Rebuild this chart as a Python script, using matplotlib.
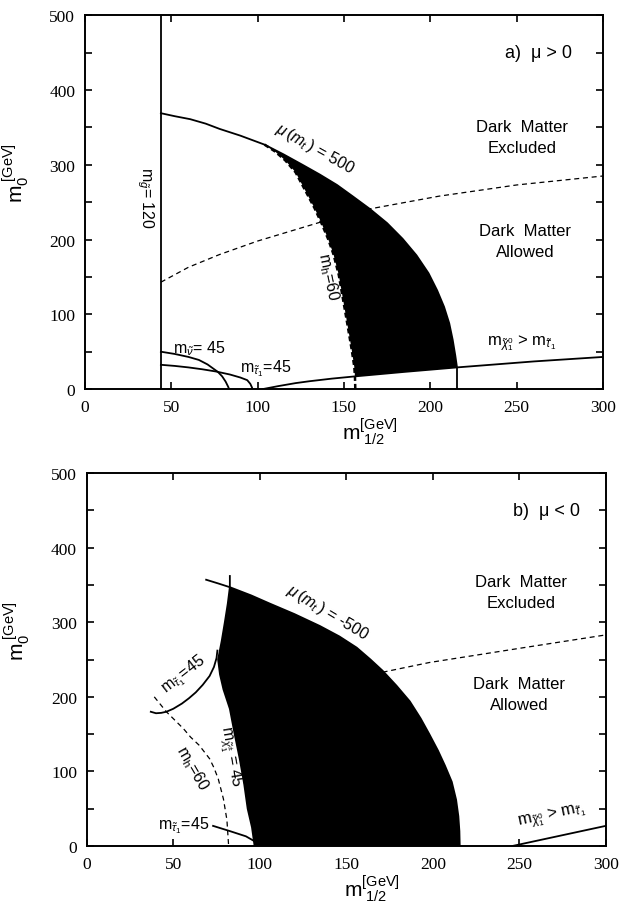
import matplotlib
matplotlib.use("Agg")
import matplotlib.pyplot as plt
import numpy as np

plt.rcParams["font.family"] = "Liberation Sans"
plt.rcParams["mathtext.fontset"] = "custom"
plt.rcParams["mathtext.rm"] = "Liberation Sans"
plt.rcParams["mathtext.it"] = "Liberation Sans:italic"
plt.rcParams["mathtext.sf"] = "Liberation Sans"

# ---- panel a) mu > 0 ----
a_gluino_x = 44
a_mu_x = [44, 52, 61, 70, 78, 90, 104, 115, 126, 136, 146, 155, 165, 175, 184, 192,
          199, 204, 208, 211, 213, 214.5, 215.5, 215.5]
a_mu_y = [369, 365, 361, 355, 348, 339, 327, 314, 300, 287, 273, 258, 241, 222, 201, 179,
          155, 132, 110, 88, 66, 45, 29, 0]
a_mh_x = [104, 110, 116, 122, 128, 133, 137, 141, 144, 147, 149.5, 152, 154.5, 156, 156.4, 156.6]
a_mh_y = [327, 318, 306, 290, 264, 242, 222, 200, 180, 153, 120, 87, 53, 30, 17, 0]
a_chi_x = [103, 112, 122, 130, 143, 156.4, 185, 215.5, 260, 300]
a_chi_y = [0, 4, 8, 10.5, 14, 17, 23, 29, 37, 43]
a_dm_x = [44, 60, 78, 100, 136, 165, 205, 250, 300]
a_dm_y = [143, 163, 180, 198, 223, 241, 258, 273, 285]
a_snu_x = [44, 52, 60, 66, 71, 74, 77, 79.5, 81.5, 83, 83.5]
a_snu_y = [50, 47, 43, 39, 33, 28, 23, 17, 10, 3, 0]
a_stau_x = [44, 52, 60, 68, 76, 84, 90, 94, 95.8, 96.8, 97]
a_stau_y = [32.5, 31, 29, 26.5, 23.5, 19.5, 15.5, 12, 7, 2, 0]

# ---- panel b) mu < 0 ----
b_mu_x = [69, 76, 82.7, 95, 105.8, 120, 134.7, 146, 156, 164, 171, 179, 186.7, 193,
          198, 203, 207, 211, 213.5, 214.8, 215.4, 215.6]
b_mu_y = [357, 352, 347, 336, 325, 311, 295, 281, 266, 250, 235, 215, 194, 171,
          150, 128, 108, 86, 62, 40, 20, 0]
b_char_x = [82.7, 82.7, 81.5, 79.8, 78, 75.9, 77, 79, 82.7, 85.5, 88.4, 91, 93, 95.5, 97]
b_char_y = [362, 347, 325, 300, 275, 250, 230, 210, 184, 150, 117, 83, 50, 25, 0]
b_stau_up_x = [37, 40, 43, 46, 50, 55, 59, 63, 67, 71, 73.5, 75, 75.5]
b_stau_up_y = [180, 178, 178.5, 180, 184, 191, 198, 206, 216, 228, 240, 252, 262]
b_mh_x = [39, 46, 56, 60, 65, 71, 73.5, 76, 79, 81, 82]
b_mh_y = [200, 180, 157, 146, 135, 117, 105, 90, 63, 35, 0]
b_stau_lo_x = [73, 82.7, 92, 98, 100]
b_stau_lo_y = [27, 20, 13, 5, 0]
b_dm_x = [171, 198, 250, 300]
b_dm_y = [233, 246, 265, 283]
b_chi_x = [246, 250, 300]
b_chi_y = [0, 2, 27]

fig = plt.figure(figsize=(6.29, 9.03), dpi=100)
ax1 = fig.add_axes([0.135, 0.568, 0.8235, 0.414])
ax2 = fig.add_axes([0.138, 0.062, 0.825, 0.413])

serif = "Liberation Serif"
lw = 1.3


def style(ax):
    ax.set_xlim(0, 300)
    ax.set_ylim(0, 500)
    ax.set_xticks([0, 50, 100, 150, 200, 250, 300])
    ax.set_yticks([0, 100, 200, 300, 400, 500])
    ax.set_yticks(np.arange(50, 500, 100), minor=True)
    ax.tick_params(direction="in", top=True, right=True, length=5, width=1.2,
                   labelsize=12.5, pad=7, labelfontfamily=serif)
    ax.tick_params(which="minor", direction="in", right=True, length=5, width=1.2)
    for s in ax.spines.values():
        s.set_linewidth(1.4)
    ax.set_xlabel(r"$\mathrm{m}_{\ 1/2}^{\mathrm{[GeV]}}$", fontsize=15)
    ax.xaxis.set_label_coords(0.55, -0.07)
    ax.set_ylabel(r"$\mathrm{m}_{0}^{\ \mathrm{[GeV]}}$", fontsize=15)
    ax.yaxis.set_label_coords(-0.105, 0.58)


# panel a
ax = ax1
style(ax)
ax.axvline(a_gluino_x, color="black", lw=lw)
ax.plot(a_dm_x, a_dm_y, color="black", lw=0.9, ls=(0, (4, 3)), zorder=1)
poly_x = a_mu_x[6:-1] + a_chi_x[5:8][::-1] + a_mh_x[:-1][::-1]
poly_y = a_mu_y[6:-1] + a_chi_y[5:8][::-1] + a_mh_y[:-1][::-1]
ax.fill(poly_x, poly_y, color="black", lw=0, zorder=2)
ax.plot(a_mu_x, a_mu_y, color="black", lw=lw, zorder=3)
ax.plot(a_mh_x, a_mh_y, color="black", lw=1.8, ls=(0, (2, 1.2)), zorder=3)
ax.plot(a_chi_x, a_chi_y, color="black", lw=lw, zorder=3)
ax.plot(a_snu_x, a_snu_y, color="black", lw=lw)
ax.plot(a_stau_x, a_stau_y, color="black", lw=lw)

ax.text(35, 257, r"$\mathrm{m}_{\tilde{g}}$= 120", rotation=-90, ha="center", va="center", fontsize=11.5)
ax.text(133, 322, r"$\mu\,(m_t\,)$ = 500", rotation=-29, ha="center", va="center", fontsize=11.5)
ax.text(141, 151, r"$\mathrm{m_h}$=60", rotation=-78, ha="center", va="center", fontsize=11.5)
ax.text(51, 55, r"$\mathrm{m}_{\tilde{\nu}}$= 45", ha="left", va="center", fontsize=11.5)
ax.text(90, 29, r"$\mathrm{m}_{\tilde{\tau}_1}$=45", ha="left", va="center", fontsize=11.5)
ax.text(282, 450, "a)  μ > 0", ha="right", va="center", fontsize=13)
ax.text(253, 337, "Dark  Matter\nExcluded", ha="center", va="center", fontsize=12, linespacing=1.5)
ax.text(255, 198, "Dark  Matter\nAllowed", ha="center", va="center", fontsize=12, linespacing=1.5)
ax.text(233, 60, r"$\mathrm{m}_{\tilde{\chi}^0_1}$ > $\mathrm{m}_{\tilde{\tau}_1}$", ha="left", va="baseline", fontsize=12)

# panel b
ax = ax2
style(ax)
ax.plot(b_dm_x, b_dm_y, color="black", lw=0.9, ls=(0, (4, 3)), zorder=1)
poly_x = b_mu_x[2:] + b_char_x[1:][::-1]
poly_y = b_mu_y[2:] + b_char_y[1:][::-1]
ax.fill(poly_x, poly_y, color="black", lw=0, zorder=2)
ax.plot(b_mu_x, b_mu_y, color="black", lw=lw, zorder=3)
ax.plot(b_char_x, b_char_y, color="black", lw=lw, zorder=3)
ax.plot(b_stau_up_x, b_stau_up_y, color="black", lw=lw)
ax.plot(b_mh_x, b_mh_y, color="black", lw=0.9, ls=(0, (4, 3)))
ax.plot(b_stau_lo_x, b_stau_lo_y, color="black", lw=lw)
ax.plot(b_chi_x, b_chi_y, color="black", lw=lw)

ax.text(139, 314, r"$\mu\,(m_t\,)$ = -500", rotation=-31, ha="center", va="center", fontsize=11.5)
ax.text(56, 230, r"$\mathrm{m}_{\tilde{\tau}_1}$=45", rotation=38, ha="center", va="center", fontsize=11.5)
ax.text(83, 121, r"$\mathrm{m}_{\tilde{\chi}^{\pm}_1}$ = 45", rotation=-80, ha="center", va="center", fontsize=11.5)
ax.text(61, 106, r"$\mathrm{m_h}$=60", rotation=-60, ha="center", va="center", fontsize=11.5)
ax.text(71, 29, r"$\mathrm{m}_{\tilde{\tau}_1}$=45", ha="right", va="center", fontsize=11.5)
ax.text(285, 450, "b)  μ < 0", ha="right", va="center", fontsize=13)
ax.text(251, 340, "Dark  Matter\nExcluded", ha="center", va="center", fontsize=12, linespacing=1.5)
ax.text(250, 204, "Dark  Matter\nAllowed", ha="center", va="center", fontsize=12, linespacing=1.5)
ax.text(269, 42, r"$\mathrm{m}_{\tilde{\chi}^0_1}$ > $\mathrm{m}_{\tilde{\tau}_1}$", rotation=12, ha="center", va="center", fontsize=12)

fig.savefig("out.png", dpi=100)
